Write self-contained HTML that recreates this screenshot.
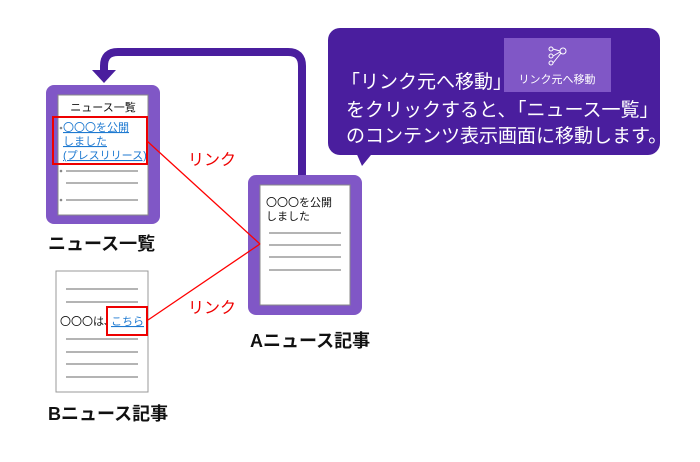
<!DOCTYPE html>
<html><head><meta charset="utf-8"><style>
body{margin:0;background:#fff;}
svg{display:block;font-family:"Liberation Sans","Noto Sans CJK JP",sans-serif;}
</style></head><body>
<svg width="700" height="462" viewBox="0 0 700 462" xmlns="http://www.w3.org/2000/svg">
<!-- arrow -->
<path d="M302 178 V66 Q302 52 288 52 H118 Q104 52 104 66 V72" fill="none" stroke="#4a1e9e" stroke-width="8"/>
<polygon points="92,70 116,70 104,83" fill="#4a1e9e"/>
<!-- callout -->
<rect x="328" y="28" width="332" height="127" rx="12" fill="#4a1e9e"/>
<polygon points="355,150 375,150 362,166" fill="#4a1e9e"/>
<rect x="504" y="38" width="107" height="54" fill="#8057c6"/>
<g stroke="#fff" stroke-width="1" fill="none"><circle cx="551" cy="49" r="2"/><circle cx="551" cy="56" r="2"/><circle cx="551" cy="63" r="2"/><circle cx="563" cy="51" r="3"/><path d="M553 49 L560 51 M553 56 L560 52 M553 63 L561 53"/></g>
<text x="557" y="83" font-size="11" fill="#fff" text-anchor="middle">リンク元へ移動</text>
<g font-size="19" fill="#fff">
<text x="341" y="88">「リンク元へ移動」</text>
<text x="346" y="116">をクリックすると､「ニュース一覧」</text>
<text x="346" y="142">のコンテンツ表示画面に移動します。</text>
</g>
<!-- left doc -->
<rect x="46" y="85" width="114" height="139" rx="8" fill="#8057c6"/>
<rect x="58" y="95" width="90" height="120" fill="#fff" stroke="#888" stroke-width="1"/>
<text x="103" y="111" font-size="11" text-anchor="middle" fill="#111">ニュース一覧</text>
<g font-size="11" fill="#1f7ad1" text-decoration="underline">
<text x="63" y="131">〇〇〇を公開</text><text x="63" y="145">しました</text><text x="63" y="159">(プレスリリース)</text></g>
<rect x="53" y="117" width="94" height="47" fill="none" stroke="#e00" stroke-width="2"/>
<g stroke="#888" stroke-width="1.3"><line x1="66" y1="171" x2="138" y2="171"/><line x1="66" y1="183" x2="138" y2="183"/><line x1="66" y1="200" x2="138" y2="200"/></g>
<g fill="#888"><circle cx="61" cy="171" r="1.3"/><circle cx="61" cy="200" r="1.3"/><circle cx="61" cy="128" r="1.3"/></g>
<text x="48" y="250" font-size="18" font-weight="bold" fill="#111">ニュース一覧</text>
<!-- A -->
<rect x="248" y="175" width="114" height="140" rx="8" fill="#8057c6"/>
<rect x="260" y="185" width="90" height="120" fill="#fff" stroke="#888" stroke-width="1"/>
<text x="266" y="206" font-size="11" fill="#111">〇〇〇を公開</text>
<text x="266" y="220" font-size="11" fill="#111">しました</text>
<g stroke="#888" stroke-width="1.3"><line x1="269" y1="233" x2="341" y2="233"/><line x1="269" y1="245" x2="341" y2="245"/><line x1="269" y1="257" x2="341" y2="257"/><line x1="269" y1="270" x2="341" y2="270"/></g>
<text x="250" y="347" font-size="18" font-weight="bold" fill="#111">Aニュース記事</text>
<!-- B -->
<rect x="56" y="271" width="92" height="121" fill="#fff" stroke="#999" stroke-width="1"/>
<g stroke="#888" stroke-width="1.3"><line x1="66" y1="289" x2="138" y2="289"/><line x1="66" y1="302" x2="138" y2="302"/><line x1="66" y1="339" x2="138" y2="339"/><line x1="66" y1="352" x2="138" y2="352"/><line x1="66" y1="364" x2="138" y2="364"/><line x1="66" y1="377" x2="138" y2="377"/></g>
<text x="60" y="325" font-size="11" fill="#111">〇〇〇は､</text>
<text x="111" y="325" font-size="11" fill="#1f7ad1" text-decoration="underline">こちら</text>
<rect x="107" y="307" width="40" height="28" fill="none" stroke="#e00" stroke-width="2"/>
<text x="48" y="420" font-size="18" font-weight="bold" fill="#111">Bニュース記事</text>
<!-- red lines -->
<g stroke="#f00" stroke-width="1.3" fill="none"><line x1="147" y1="141" x2="260" y2="244"/><line x1="148" y1="320" x2="260" y2="244"/></g>
<text x="188" y="165" font-size="16" fill="#e00">リンク</text>
<text x="188" y="313" font-size="16" fill="#e00">リンク</text>
</svg>
</body></html>
